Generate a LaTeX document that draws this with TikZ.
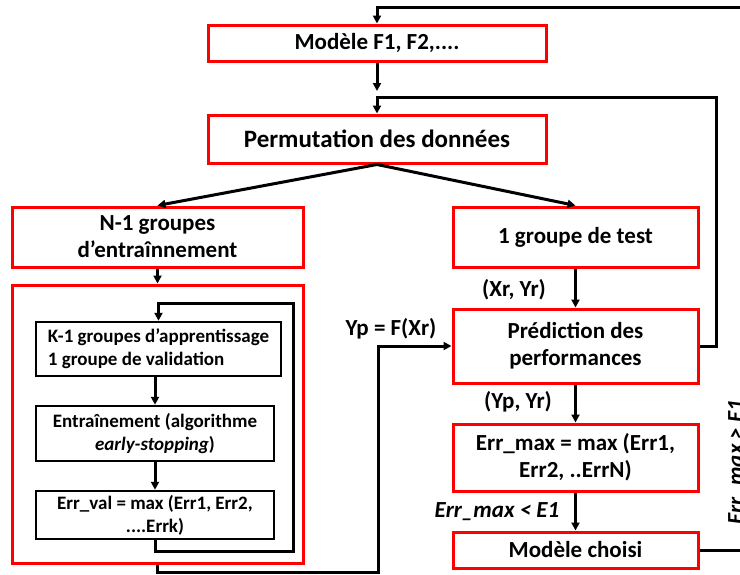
\documentclass[tikz,border=0pt]{standalone}
\usepackage{fontspec}
\setmainfont{Carlito}
\usetikzlibrary{arrows.meta}
\begin{document}
\begin{tikzpicture}[x=1pt,y=-1pt,line width=3pt,
    flow/.style={-{Triangle[length=8pt,width=8pt]}},
    redbox/.style={draw=red,line width=3pt,inner sep=0pt,align=center,font=\bfseries\fontsize{23}{27}\selectfont},
    innerbox/.style={draw=black,line width=2.5pt,inner sep=0pt,align=center,font=\bfseries\fontsize{19}{23}\selectfont},
    lab/.style={inner sep=0pt,font=\bfseries\fontsize{23}{27}\selectfont}]
\useasboundingbox[fill=white] (0,0) rectangle (740,574);
% boxes
\node[redbox,minimum width=338pt,minimum height=36pt] (mf) at (377,43) {Modèle F1, F2,....};
\node[redbox,minimum width=338pt,minimum height=48pt,font=\bfseries\fontsize{25}{30}\selectfont] (perm) at (377,139) {Permutation des données};
\node[redbox,minimum width=291pt,minimum height=60pt] (ngrp) at (157.5,237) {N-1 groupes\\d’entraînnement};
\node[redbox,minimum width=291pt,minimum height=278pt] (big) at (157.5,424) {};
\node[innerbox,minimum width=245pt,minimum height=54pt,align=left] (kgrp) at (158.5,349) {K-1 groupes d’apprentissage\\1 groupe de validation};
\node[innerbox,minimum width=238pt,minimum height=55pt] (entr) at (155,433.5) {Entraînement (algorithme\\\textit{early-stopping})};
\node[innerbox,minimum width=238pt,minimum height=48pt] (errv) at (155,515) {Err\_val = max (Err1, Err2,\\....Errk)};
\node[redbox,minimum width=245pt,minimum height=60pt] (test) at (575.5,237) {1 groupe de test};
\node[redbox,minimum width=245pt,minimum height=74pt] (pred) at (575.5,346) {Prédiction des\\performances};
\node[redbox,minimum width=245pt,minimum height=67pt] (errm) at (575.5,457.5) {Err\_max = max (Err1,\\Err2, ..ErrN)};
\node[redbox,minimum width=245pt,minimum height=36pt] (choisi) at (575.5,550) {Modèle choisi};
% labels
\node[lab] (xryr) at (514,290) {(Xr, Yr)};
\node[lab] (ypyr) at (518,402) {(Yp, Yr)};
\node[lab] (ypf) at (391,329) {Yp = F(Xr)};
\node[lab,font=\bfseries\itshape\fontsize{23}{27}\selectfont] (inf) at (497,512) {Err\_max < E1};
\node[lab,rotate=90,anchor=base,font=\bfseries\itshape\fontsize{23}{27}\selectfont] (sup) at (743,462) {Err\_max > E1};
% corners
\coordinate (topR) at (752,7);
\coordinate (midR) at (716,97);
\coordinate (mfend) at (377,91);
\coordinate (inBot) at (293,551);
\coordinate (inR) at (293,303);
\coordinate (botR) at (378,572);
% connectors
\draw[flow] (choisi.east) -| (topR) -| (mf.north);
\draw[flow] (mf.south) -- (mfend);
\draw[flow] (pred.east) -| (midR) -| (perm.north);
\draw[flow] (perm.south) -- (ngrp.north);
\draw[flow] (perm.south) -- (test.north);
\draw[flow] (ngrp.south) -- (big.north);
\draw[flow] (errv.south) |- (inBot) -- (inR) -| (kgrp.north);
\draw[flow] (kgrp.south -| entr.north) -- (entr.north);
\draw[flow] (entr.south) -- (errv.north);
\draw[flow] (big.south) |- (botR) |- (pred.west);
\foreach \a/\b in {test/pred,pred/errm,errm/choisi}
  \draw[flow] (\a.south) -- (\b.north);
\end{tikzpicture}
\end{document}
